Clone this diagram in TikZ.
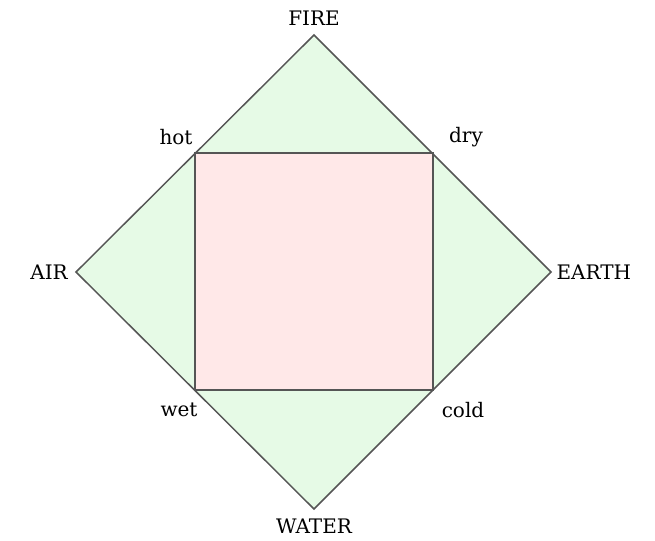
\documentclass[tikz,border=0pt]{standalone}
\usepackage{fontspec}
\setmainfont{DejaVu Serif}
\usepackage{tikz}
\usetikzlibrary{positioning}
\definecolor{edgegray}{HTML}{555555}
\definecolor{greenpale}{HTML}{E6FAE6}
\definecolor{pinkpale}{HTML}{FFE8E8}
\tikzset{
  outline/.style={draw=edgegray,line width=1.1pt,line join=miter},
  element/.style={font=\fontsize{15}{18}\selectfont,inner sep=1pt},
  quality/.style={font=\fontsize{15}{18}\selectfont,inner sep=1pt},
}

\begin{document}
\begin{tikzpicture}[x=0.75pt,y=-0.75pt]
  \useasboundingbox (0,0) rectangle (655,540);
  % corners of the diamond
  \coordinate (fire) at (314,35);
  \coordinate (earth) at (551,272);
  \coordinate (water) at (314,509);
  \coordinate (air) at (76,272);
  % corners of the square
  \coordinate (hot) at (195,153);
  \coordinate (dry) at (433,153);
  \coordinate (cold) at (433,390);
  \coordinate (wet) at (195,390);

  \filldraw[outline,fill=greenpale] (fire)--(earth)--(water)--(air)--cycle;
  \filldraw[outline,fill=pinkpale] (hot)--(dry)--(cold)--(wet)--cycle;

  \node[element] (firelabel) at ([shift={(0,-17)}]fire) {FIRE};
  \node[element,left=5pt of air] (airlabel) {AIR};
  \node[element,right=3pt of earth] (earthlabel) {EARTH};
  \node[element] (waterlabel) at ([shift={(0,17)}]water) {WATER};

  \node[quality] (hotlabel) at ([shift={(-19,-16)}]hot) {hot};
  \node[quality] (drylabel) at ([shift={(33,-16)}]dry) {dry};
  \node[quality] (wetlabel) at ([shift={(-16,20)}]wet) {wet};
  \node[quality] (coldlabel) at ([shift={(30,20)}]cold) {cold};
\end{tikzpicture}
\end{document}
